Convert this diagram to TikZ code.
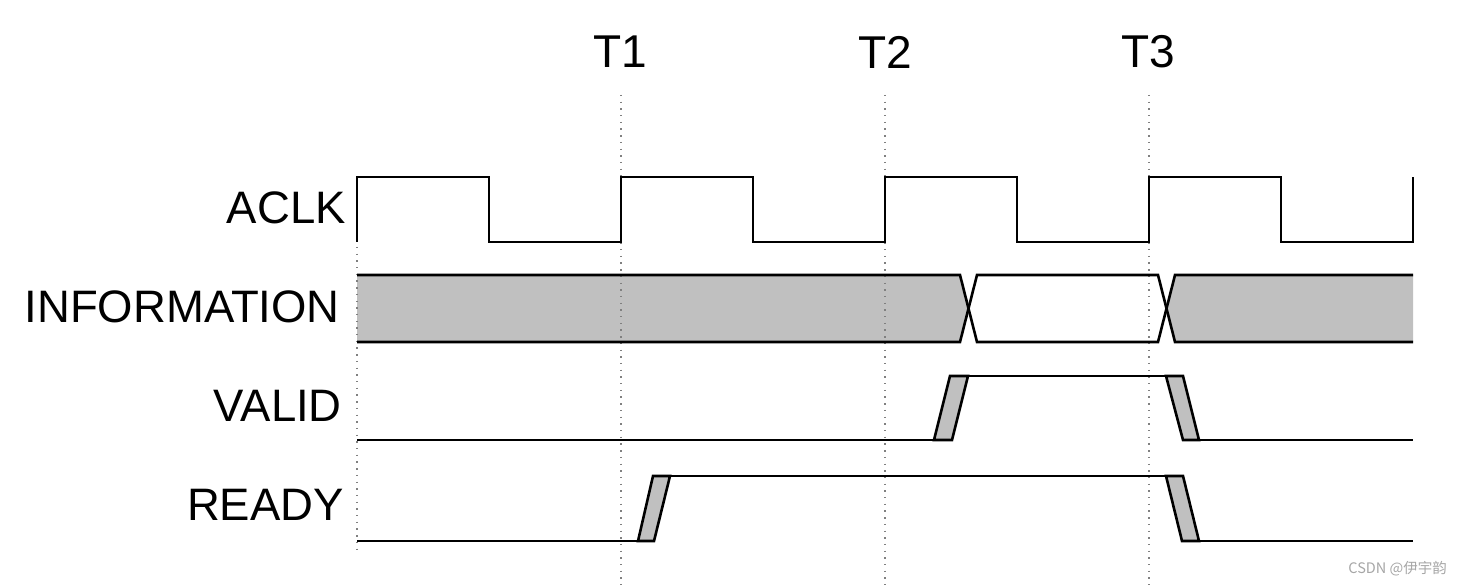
\documentclass[tikz,border=0pt]{standalone}
\usepackage{fontspec}
\setmainfont{Liberation Sans}
\newfontfamily\cjkfont{Noto Sans CJK SC}
\definecolor{busgray}{HTML}{C0C0C0}
\tikzset{
  sig/.style={line width=2.6pt, line join=miter},
  trans/.style={line width=2.6pt, fill=busgray, line join=miter},
  guide/.style={line width=1.3pt, gray, dash pattern=on 1.4pt off 5.3pt},
  siglabel/.style={anchor=east, inner sep=0pt, font=\fontsize{45.5}{50}\selectfont},
  tlabel/.style={inner sep=0pt, font=\fontsize{46}{50}\selectfont}
}
\begin{document}
\begin{tikzpicture}[x=1pt,y=-1pt]
\useasboundingbox (0,0) rectangle (1462,585);
% labels
\node[tlabel] (t1) at (620,52) {T1};
\node[tlabel] (t2) at (885,52) {T2};
\node[tlabel] (t3) at (1148,52) {T3};
\node[siglabel] (aclk) at (346,208) {ACLK};
\node[siglabel] (info) at (340,307) {INFORMATION};
\node[siglabel] (valid) at (342,406) {VALID};
\node[siglabel] (ready) at (344,505) {READY};
% bus fills
\fill[busgray] (357,275)--(960,275)--(968.5,308.5)--(960,342)--(357,342)--cycle;
\fill[busgray] (1413,275)--(1175,275)--(1166.5,308.5)--(1175,342)--(1413,342)--cycle;
% guides
\draw[guide] (357,247)--(357,553);
\draw[guide] (621,95)--(621,585);
\draw[guide] (885,95)--(885,585);
\draw[guide] (1149,95)--(1149,585);
% clock
\draw[sig] (357,242)--(357,177)--(489,177)--(489,242)--(621,242)--(621,177)--(753,177)--(753,242)--(885,242)--(885,177)--(1017,177)--(1017,242)--(1149,242)--(1149,177)--(1281,177)--(1281,242)--(1413,242)--(1413,177);
% bus
\draw[sig] (357,275)--(960,275)--(977,342)--(1158,342)--(1175,275)--(1413,275);
\draw[sig] (357,342)--(960,342)--(977,275)--(1158,275)--(1175,342)--(1413,342);
% valid
\draw[sig] (357,440)--(934,440);
\draw[trans] (934,440)--(950,376)--(968,376)--(952,440)--cycle;
\draw[sig] (968,376)--(1166,376);
\draw[trans] (1166,376)--(1183,376)--(1199,440)--(1183,440)--cycle;
\draw[sig] (1199,440)--(1413,440);
% ready
\draw[sig] (357,541)--(638,541);
\draw[trans] (638,541)--(653,476)--(670,476)--(654,541)--cycle;
\draw[sig] (670,476)--(1166,476);
\draw[trans] (1166,476)--(1183,476)--(1199,541)--(1182,541)--cycle;
\draw[sig] (1199,541)--(1413,541);
% watermark
\node[inner sep=0pt, anchor=east, text=gray!70, font=\cjkfont\fontsize{14.5}{16}\selectfont] (wm) at (1447,569) {CSDN @伊宇韵};
\end{tikzpicture}
\end{document}
